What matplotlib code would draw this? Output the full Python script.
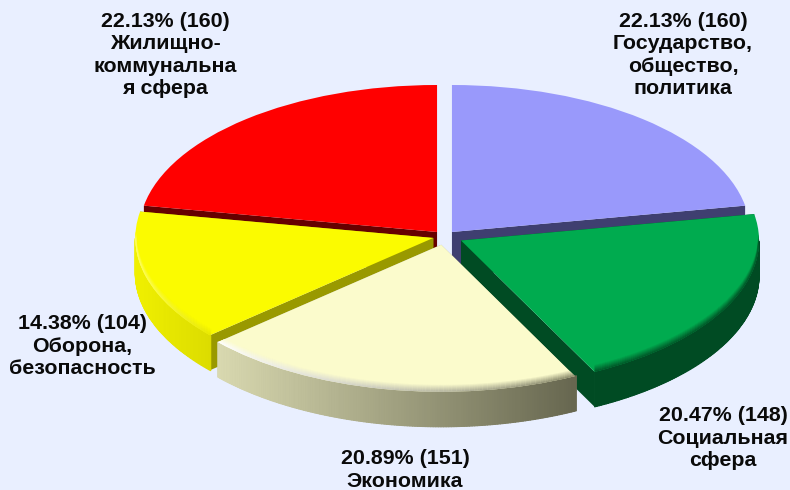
import numpy as np
import matplotlib
matplotlib.use("Agg")
import matplotlib.pyplot as plt
from matplotlib.collections import LineCollection, PolyCollection
from matplotlib.colors import to_rgb

# ---------------------------------------------------------------------------
# Data (clockwise from the top)
# ---------------------------------------------------------------------------
categories = [
    "Государство,\nобщество,\nполитика",
    "Социальная\nсфера",
    "Экономика",
    "Оборона,\nбезопасность",
    "Жилищно-\nкоммунальна\nя сфера",
]
values = [160, 148, 151, 104, 160]

# ---------------------------------------------------------------------------
# Styles
# ---------------------------------------------------------------------------
explode = [0.039, 0.062, 0.058, 0.039, 0.039]
top_colors = ["#9999FB", "#00AB4F", "#FBFBCC", "#FBFB00", "#FF0000"]
cut_colors = ["#3F3F70", "#004B23", "#B0B090", "#999900", "#660000"]
wall_left = ["#3F3F70", "#004B23", "#D9D9B0", "#F0F000", "#660000"]
wall_right = ["#3F3F70", "#004B23", "#66664F", "#DCDC00", "#660000"]
rim_left = [None, "#005A2A", "#FFFFFF", "#FFFF60", None]
rim_right = [None, "#005A2A", "#8A8A6A", "#E8E800", None]
draw_order = [0, 4, 3, 1, 2]
label_centers = [(683, 55), (723, 438), (405, 470), (82, 346), (165, 55)]
BG = "#E9EFFF"

# pie geometry in pixels of the 790x490 picture
CX, CY, RX, RY = 444.5, 236.4, 298.0, 147.0
DEPTH = 35.0 / RY
BEVEL_PX = 7


def blend(c1, c2, t):
    c1, c2 = np.array(to_rgb(c1)), np.array(to_rgb(c2))
    return tuple(c1 + (c2 - c1) * t)


fig = plt.figure(figsize=(7.9, 4.9), dpi=100, facecolor=BG)
ax = fig.add_axes([0, 0, 1, 1])
wedges, _ = ax.pie(values, startangle=90, counterclock=False, explode=explode,
                   colors=top_colors, wedgeprops={"linewidth": 0})
ax.set_aspect("auto")
ax.set_xlim((0 - CX) / RX, (790 - CX) / RX)
ax.set_ylim((CY - 490) / RY, CY / RY)

# ---------------------------------------------------------------------------
# Extrude each wedge, back to front
# ---------------------------------------------------------------------------
for order, i in enumerate(draw_order):
    w = wedges[i]
    x0, y0 = w.center
    base_z = 1 + order * 3

    # radial cut faces
    for t in (w.theta1, w.theta2):
        rx, ry = x0 + np.cos(np.radians(t)), y0 + np.sin(np.radians(t))
        ax.fill([x0, rx, rx, x0], [y0, ry, ry - DEPTH, y0 - DEPTH],
                color=cut_colors[i], linewidth=0, zorder=base_z)

    # outer wall, only the part that faces the viewer
    th = np.radians(np.arange(w.theta1, w.theta2 + 0.5, 0.5))
    th = th[np.sin(th) <= 0]
    if len(th) > 1:
        xs, ys = x0 + np.cos(th), y0 + np.sin(th)
        span = max(xs.max() - xs.min(), 1e-6)
        # solid backing so the seams between the slices do not show
        ax.fill(np.r_[xs, xs[::-1]], np.r_[ys, ys[::-1] - DEPTH],
                color=blend(wall_left[i], wall_right[i], 0.5), linewidth=0, zorder=base_z + 0.5)
        quads, cols = [], []
        for k in range(len(th) - 1):
            quads.append([(xs[k], ys[k]), (xs[k + 1], ys[k + 1]),
                          (xs[k + 1], ys[k + 1] - DEPTH), (xs[k], ys[k] - DEPTH)])
            cols.append(blend(wall_left[i], wall_right[i], (xs[k] - xs.min()) / span))
        ax.add_collection(PolyCollection(quads, facecolors=cols, edgecolors=cols,
                                         linewidths=0.8, zorder=base_z + 1))

    w.set_zorder(base_z + 2)

    # soft bevel along the front rim of the top face
    if rim_left[i] is not None and len(th) > 1:
        for k in range(BEVEL_PX):
            fade = k / BEVEL_PX
            segs, cols = [], []
            shift = k / RY
            for n in range(len(th) - 1):
                segs.append([(xs[n], ys[n] + shift), (xs[n + 1], ys[n + 1] + shift)])
                rim = blend(rim_left[i], rim_right[i], (xs[n] - xs.min()) / span)
                cols.append(blend(rim, top_colors[i], fade))
            lc = LineCollection(segs, colors=cols, linewidths=1.3, zorder=base_z + 2.5 - k * 0.01)
            ax.add_collection(lc)
            lc.set_clip_path(w)

# ---------------------------------------------------------------------------
# Labels
# ---------------------------------------------------------------------------
total = sum(values)
for name, val, (px, py) in zip(categories, values, label_centers):
    fig.text(px / 790, 1 - py / 490, f"{val / total * 100:.2f}% ({val})\n{name}",
             ha="center", va="center", family="Liberation Sans", fontweight="bold",
             fontsize=15.4, linespacing=1.23, color="#0A0A0A", zorder=30)

fig.savefig("out.png", dpi=100, facecolor=BG)
